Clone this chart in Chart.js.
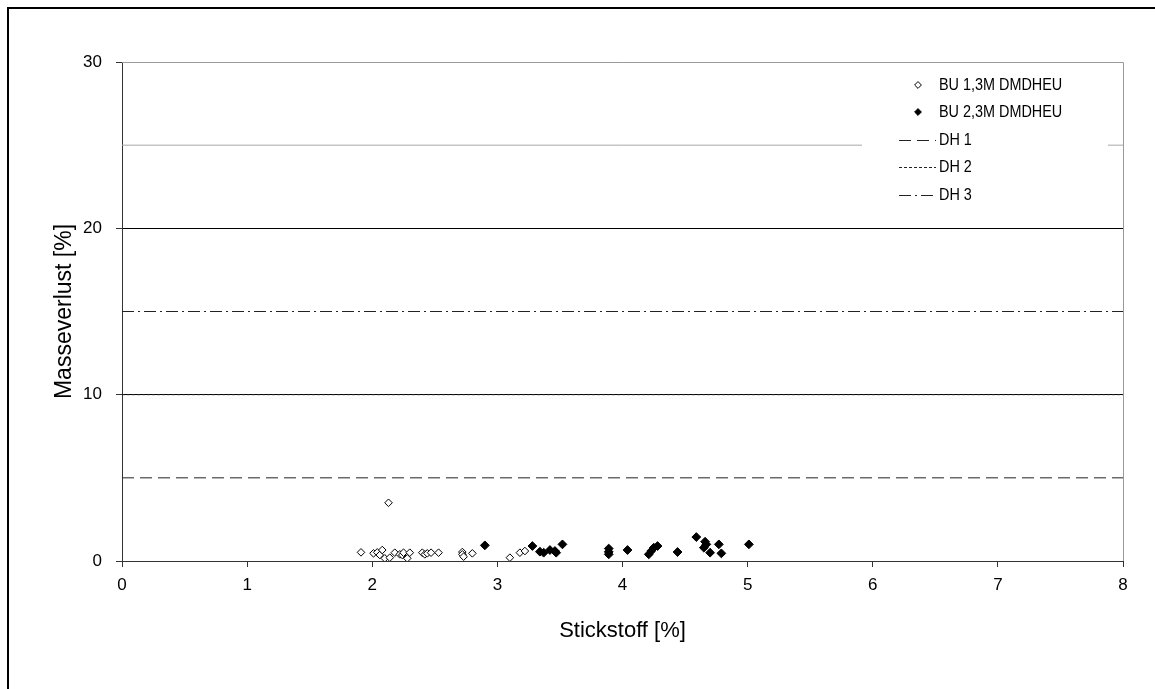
<!DOCTYPE html>
<html>
<head>
<meta charset="utf-8">
<script src="https://cdn.jsdelivr.net/npm/chart.js@4/dist/chart.umd.min.js"></script>
<style>
  html, body { margin: 0; padding: 0; background: #fff; }
  #wrap { width: 1155px; height: 689px; }
</style>
</head>
<body>
<div id="wrap"><canvas id="c" width="1155" height="689"></canvas></div>
<script>
// Axis ticks
const xTicks = [0, 1, 2, 3, 4, 5, 6, 7, 8];
const yTicks = [0, 10, 20, 30];

// BU 1,3M DMDHEU: nitrogen [%] vs. mass loss [%]
const bu13X = [1.91, 2.01, 2.04, 2.06, 2.08, 2.10, 2.13, 2.14, 2.18, 2.22, 2.24, 2.25, 2.28, 2.30,
               2.40, 2.42, 2.44, 2.47, 2.53, 2.72, 2.72, 2.73, 2.80, 3.10, 3.18, 3.22];
const bu13Y = [0.52, 0.46, 0.52, 0.36, 0.66, 0.16, 3.50, 0.20, 0.50, 0.40, 0.36, 0.50, 0.16, 0.50,
               0.50, 0.40, 0.46, 0.50, 0.50, 0.54, 0.40, 0.26, 0.46, 0.20, 0.50, 0.60];

// BU 2,3M DMDHEU
const bu23X = [2.90, 3.28, 3.34, 3.37, 3.42, 3.46, 3.47, 3.52, 3.89, 3.89, 3.89, 4.04, 4.21, 4.23,
               4.25, 4.28, 4.44, 4.59, 4.65, 4.66, 4.67, 4.70, 4.77, 4.79, 5.01];
const bu23Y = [0.94, 0.90, 0.56, 0.50, 0.66, 0.60, 0.50, 1.00, 0.75, 0.55, 0.40, 0.66, 0.40, 0.60,
               0.80, 0.90, 0.54, 1.44, 0.80, 1.16, 1.00, 0.50, 1.00, 0.46, 1.00];

// Durability class thresholds (mass loss [%])
const dhLabels = ['DH 1', 'DH 2', 'DH 3'];
const dhLevels = [5, 10, 15];
const upperLevel = 25;

const xMin = xTicks[0], xMax = xTicks[xTicks.length - 1];
const toPoints = (xs, ys) => xs.map((x, i) => ({ x, y: ys[i] }));
const hLine = v => [{ x: xMin, y: v }, { x: xMax, y: v }];

const dhDashes = [[12, 6], [3, 2], [12, 4, 2, 4]];
const LINE_COLOR = '#222';

const datasets = [
  {
    label: '',
    data: hLine(upperLevel),
    showLine: true, pointRadius: 0, borderColor: '#a8a8a8', borderWidth: 1,
    inLegend: false
  },
  ...dhLabels.map((lab, i) => ({
    label: lab,
    data: hLine(dhLevels[i]),
    showLine: true, pointRadius: 0, borderColor: LINE_COLOR, borderWidth: 1,
    borderDash: dhDashes[i], inLegend: true, kind: 'line'
  })),
  {
    label: 'BU 1,3M DMDHEU',
    data: toPoints(bu13X, bu13Y),
    pointStyle: 'rectRot', pointRadius: 3.8, pointBorderWidth: 1,
    pointBackgroundColor: '#fff', pointBorderColor: '#000',
    backgroundColor: '#fff', borderColor: '#000',
    inLegend: true, kind: 'open'
  },
  {
    label: 'BU 2,3M DMDHEU',
    data: toPoints(bu23X, bu23Y),
    pointStyle: 'rectRot', pointRadius: 4.4, pointBorderWidth: 1,
    pointBackgroundColor: '#000', pointBorderColor: '#000',
    backgroundColor: '#000', borderColor: '#000',
    inLegend: true, kind: 'filled'
  }
];

// Page background and outer frame
const framePlugin = {
  id: 'frame',
  beforeDraw(chart) {
    const ctx = chart.ctx;
    ctx.save();
    ctx.fillStyle = '#fff';
    ctx.fillRect(0, 0, chart.width, chart.height);
    ctx.fillStyle = '#000';
    ctx.fillRect(7, 7, 2, chart.height - 7);
    ctx.fillRect(7, 7, chart.width - 7, 2);
    ctx.restore();
  },
  afterDatasetsDraw(chart) {
    // light plot-area border on top and right
    const { ctx, chartArea: a } = chart;
    ctx.save();
    ctx.strokeStyle = '#9a9a9a';
    ctx.lineWidth = 1;
    ctx.beginPath();
    ctx.moveTo(a.left, a.top + 0.5);
    ctx.lineTo(a.right + 0.5, a.top + 0.5);
    ctx.lineTo(a.right + 0.5, a.bottom);
    ctx.stroke();
    ctx.restore();
  }
};

// Legend drawn inside the plot area, upper right
const insideLegend = {
  id: 'insideLegend',
  afterDatasetsDraw(chart) {
    const ctx = chart.ctx;
    const order = ['BU 1,3M DMDHEU', 'BU 2,3M DMDHEU', ...dhLabels];
    const items = order.map(l => chart.data.datasets.find(d => d.label === l));
    ctx.save();
    ctx.fillStyle = '#fff';
    ctx.fillRect(862, 64, 246, 150);
    const textX = 939, symX = 918, lineX0 = 899, lineX1 = 936;
    const rowY = [85, 112, 140, 167, 195];
    ctx.font = '16px "Liberation Sans", Arial, sans-serif';
    ctx.textBaseline = 'middle';
    ctx.textAlign = 'left';
    items.forEach((d, i) => {
      const y = rowY[i];
      if (d.kind === 'line') {
        ctx.save();
        ctx.strokeStyle = d.borderColor;
        ctx.lineWidth = 1;
        ctx.setLineDash(d.borderDash);
        ctx.beginPath();
        ctx.moveTo(lineX0, y + 0.5);
        ctx.lineTo(lineX1, y + 0.5);
        ctx.stroke();
        ctx.restore();
      } else {
        const r = 3.4;
        ctx.beginPath();
        ctx.moveTo(symX - r, y);
        ctx.lineTo(symX, y - r);
        ctx.lineTo(symX + r, y);
        ctx.lineTo(symX, y + r);
        ctx.closePath();
        ctx.fillStyle = d.kind === 'open' ? '#fff' : '#000';
        ctx.fill();
        ctx.strokeStyle = '#000';
        ctx.lineWidth = 1;
        ctx.stroke();
      }
      // slightly condensed label text
      ctx.save();
      ctx.translate(textX, y + 1);
      ctx.scale(0.9, 1);
      ctx.fillStyle = '#000';
      ctx.fillText(d.label, 0, 0);
      ctx.restore();
    });
    ctx.restore();
  }
};

const FONT = '"Liberation Sans", Arial, sans-serif';

new Chart(document.getElementById('c'), {
  type: 'scatter',
  data: { datasets },
  plugins: [framePlugin, insideLegend],
  options: {
    responsive: false,
    animation: false,
    devicePixelRatio: 1,
    layout: { padding: { top: 62, right: 32, left: 0, bottom: 0 } },
    plugins: { legend: { display: false }, tooltip: { enabled: false } },
    scales: {
      x: {
        type: 'linear',
        min: xMin, max: xMax,
        afterFit(s) { s.height = 128; },
        afterBuildTicks(s) { s.ticks = xTicks.map(v => ({ value: v })); },
        border: { display: true, color: '#333', width: 1 },
        grid: { drawOnChartArea: false, drawTicks: true, tickLength: 6, tickColor: '#333' },
        ticks: { color: '#000', padding: 8, font: { family: FONT, size: 17 }, maxRotation: 0 },
        title: {
          display: true, text: 'Stickstoff [%]', color: '#000',
          font: { family: FONT, size: 22 }, padding: { top: 0, bottom: 45 }
        }
      },
      y: {
        type: 'linear',
        min: yTicks[0], max: yTicks[yTicks.length - 1],
        afterFit(s) { s.width = 122; },
        afterBuildTicks(s) { s.ticks = yTicks.map(v => ({ value: v })); },
        border: { display: true, color: '#333', width: 1 },
        grid: {
          drawOnChartArea: true, drawTicks: true, tickLength: 6, tickColor: '#333',
          color: c => (c.tick && (c.tick.value === 10 || c.tick.value === 20)) ? '#000' : 'rgba(0,0,0,0)',
          lineWidth: 1
        },
        ticks: { color: '#000', padding: 14, font: { family: FONT, size: 17 } },
        title: {
          display: true, text: 'Masseverlust [%]', color: '#000',
          font: { family: FONT, size: 23 }, padding: { top: 51, bottom: 0 }
        }
      }
    }
  }
});
</script>
</body>
</html>
